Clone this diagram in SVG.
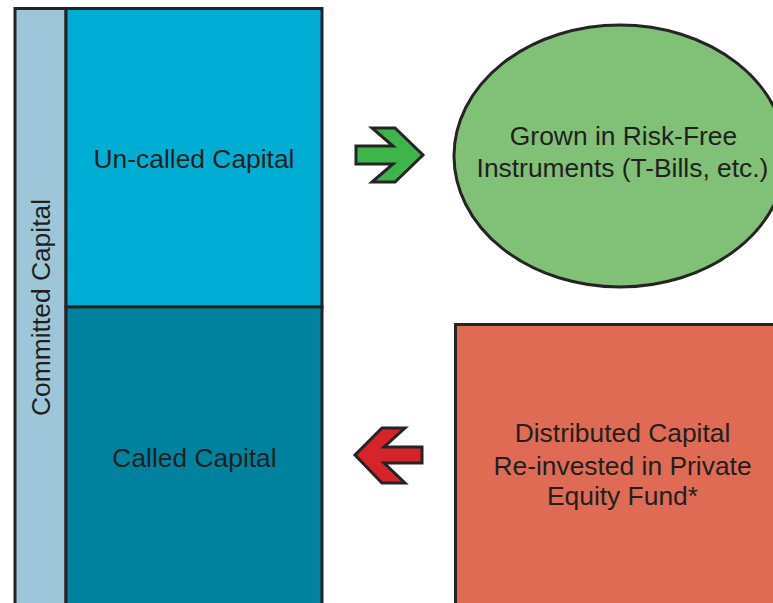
<svg xmlns="http://www.w3.org/2000/svg" width="773" height="603" viewBox="0 0 773 603">
<style>
.s{stroke:#262324;stroke-width:3;stroke-linejoin:miter}
.t{font-family:"Liberation Sans",Arial,sans-serif;font-size:26.4px;fill:#231F20;text-anchor:middle}
</style>
<rect width="773" height="603" fill="#ffffff"/>
<g id="committed">
<rect class="s" x="15" y="8.5" width="51" height="600" fill="#9DC6D9"/>
<text class="t" transform="translate(50,307.5) rotate(-90)">Committed Capital</text>
</g>
<g id="uncalled">
<rect class="s" x="66" y="8.5" width="256" height="298.5" fill="#00AED3"/>
<text class="t" x="194" y="168">Un-called Capital</text>
</g>
<g id="called">
<rect class="s" x="66" y="307" width="256" height="300" fill="#00829E"/>
<text class="t" x="194.5" y="467">Called Capital</text>
</g>
<g id="riskfree">
<ellipse class="s" cx="620" cy="156" rx="166" ry="131" fill="#80C077"/>
<text class="t" x="623.5" y="145">Grown in Risk-Free</text>
<text class="t" x="622.5" y="177">Instruments (T-Bills, etc.)</text>
</g>
<g id="distributed">
<rect class="s" x="455.5" y="324.5" width="340" height="300" fill="#DF6B55"/>
<text class="t" x="622.5" y="442">Distributed Capital</text>
<text class="t" x="622.5" y="475">Re-invested in Private</text>
<text class="t" x="622.5" y="505">Equity Fund*</text>
</g>
<g id="connectors">
<polygon class="s" fill="#3DB54A" points="372,128 395,128 423,155 395,182 372,182 393,164 356,164 356,146 393,146"/>
<polygon class="s" fill="#D5232A" points="382,428 405,428 384,447 422,447 422,463 384,463 405,483 382,483 355,455"/>
</g>
</svg>
